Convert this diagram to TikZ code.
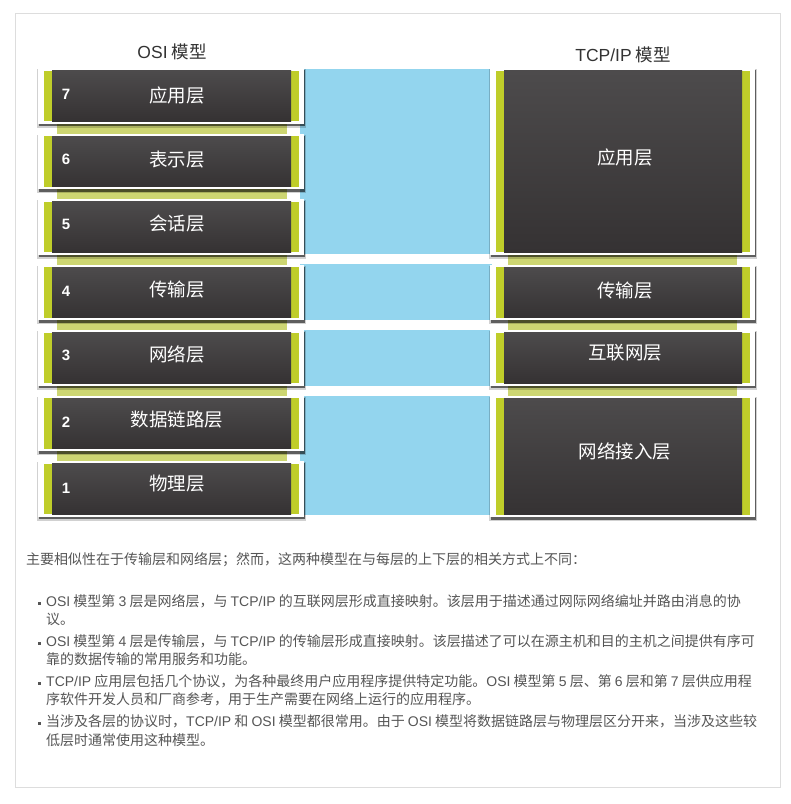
\documentclass[tikz,border=0pt]{standalone}
\usepackage{fontspec}
\setmainfont{Noto Sans CJK SC}
\newfontfamily\latf{Liberation Sans}
\newcommand\la[1]{{\latf #1}}
\definecolor{limeg}{HTML}{BFCD2A}
\definecolor{stripc}{HTML}{CDD672}
\definecolor{skyb}{HTML}{93D5EE}
\definecolor{dtop}{HTML}{4D4B4C}
\definecolor{dbot}{HTML}{353233}
\definecolor{txt}{HTML}{555555}
\definecolor{ttl}{HTML}{333333}
\definecolor{frm}{HTML}{DDDDDD}
\tikzset{
  lbl/.style={text=white,font=\fontsize{18.5}{22}\selectfont,inner sep=0pt},
  num/.style={text=white,font=\latf\bfseries\fontsize{15}{18}\selectfont,inner sep=0pt},
  ttlstyle/.style={text=ttl,font=\fontsize{17.5}{20}\selectfont,inner sep=0pt},
  body/.style={text=txt,font=\fontsize{14}{17}\selectfont,inner sep=0pt,anchor=base west},
  bul/.style={fill=txt,minimum size=3pt,inner sep=0pt,draw=none,rectangle},
  band/.style={fill=skyb},
  strip/.style={fill=stripc},
}
% #1 left, #2 top, #3 right, #4 bottom, #5 name
\newcommand\lyr[5]{%
  \fill[black,opacity=0.18] (#1-1.5,#2+1) rectangle (#3+1.5,#4+4);
  \fill[black,opacity=0.55] (#1+0.5,#2+2) rectangle (#3+0.5,#4+2.5);
  \node[fill=white,inner sep=0pt,minimum width={#3-#1},minimum height={#4-#2},anchor=north west] (#5) at (#1,#2) {};
  \fill[limeg] (#1+6,#2+2.5) rectangle (#3-5,#4-2.5);
  \shade[top color=dtop,bottom color=dbot] (#1+14,#2+2.5) rectangle (#3-13,#4-2.5);
}
\begin{document}
\begin{tikzpicture}[x=1pt,y=-1pt]
\useasboundingbox (0,0) rectangle (791,804);
\draw[frm,line width=1pt] (15.5,13.5) rectangle (780.5,787.5);

% titles
\node[ttlstyle] (tosi) at (172,52) {\la{OSI} 模型};
\node[ttlstyle] (ttcp) at (623,55) {\la{TCP/IP} 模型};

% blue bands
\fill[band] (300,69) rectangle (492,254);
\fill[band] (300,264) rectangle (492,320);
\fill[band] (300,330) rectangle (492,386);
\fill[band] (300,396) rectangle (492,515);

% strips behind
\fill[strip] (57,80) rectangle (287,510);
\fill[strip] (508,80) rectangle (737,510);

% OSI layers
\lyr{38}{68}{304}{123.5}{o7}
\lyr{38}{133.5}{304}{189}{o6}
\lyr{38}{199}{304}{254.5}{o5}
\lyr{38}{264.5}{304}{320}{o4}
\lyr{38}{330}{304}{385.5}{o3}
\lyr{38}{395.5}{304}{451}{o2}
\lyr{38}{461}{304}{516.5}{o1}

% TCP/IP layers
\lyr{490}{68}{755}{254.5}{t4}
\lyr{490}{264.5}{755}{320}{t3}
\lyr{490}{330}{755}{385.5}{t2}
\lyr{490}{395.5}{755}{517}{t1}

% OSI labels
\node[num] (n7) at (66,94) {7};
\node[num] (n6) at (66,159) {6};
\node[num] (n5) at (66,224) {5};
\node[num] (n4) at (66,291) {4};
\node[num] (n3) at (66,355) {3};
\node[num] (n2) at (66,422) {2};
\node[num] (n1) at (66,488) {1};
\node[lbl] (l7) at (177,95) {应用层};
\node[lbl] (l6) at (177,160) {表示层};
\node[lbl] (l5) at (177,224) {会话层};
\node[lbl] (l4) at (177,290) {传输层};
\node[lbl] (l3) at (177,354) {网络层};
\node[lbl] (l2) at (177,420) {数据链路层};
\node[lbl] (l1) at (177,484) {物理层};

% TCP labels
\node[lbl] (k4) at (625,157) {应用层};
\node[lbl] (k3) at (625,291) {传输层};
\node[lbl] (k2) at (625,353) {互联网层};
\node[lbl] (k1) at (625,451) {网络接入层};

% body text
\node[body] (p0) at (26,564) {主要相似性在于传输层和网络层；然而，这两种模型在与每层的上下层的相关方式上不同：};
\node[bul] (b1) at (39,603) {};
\node[body] (p1a) at (46,606) {\la{OSI} 模型第 \la{3} 层是网络层，与 \la{TCP/IP} 的互联网层形成直接映射。该层用于描述通过网际网络编址并路由消息的协};
\node[body] (p1b) at (46,624) {议。};
\node[bul] (b2) at (39,643) {};
\node[body] (p2a) at (46,646) {\la{OSI} 模型第 \la{4} 层是传输层，与 \la{TCP/IP} 的传输层形成直接映射。该层描述了可以在源主机和目的主机之间提供有序可};
\node[body] (p2b) at (46,664) {靠的数据传输的常用服务和功能。};
\node[bul] (b3) at (39,683) {};
\node[body] (p3a) at (46,686) {\la{TCP/IP} 应用层包括几个协议，为各种最终用户应用程序提供特定功能。\la{OSI} 模型第 \la{5} 层、第 \la{6} 层和第 \la{7} 层供应用程};
\node[body] (p3b) at (46,704) {序软件开发人员和厂商参考，用于生产需要在网络上运行的应用程序。};
\node[bul] (b4) at (39,723) {};
\node[body] (p4a) at (46,726) {当涉及各层的协议时，\la{TCP/IP} 和 \la{OSI} 模型都很常用。由于 \la{OSI} 模型将数据链路层与物理层区分开来，当涉及这些较};
\node[body] (p4b) at (46,745) {低层时通常使用这种模型。};
\end{tikzpicture}
\end{document}
